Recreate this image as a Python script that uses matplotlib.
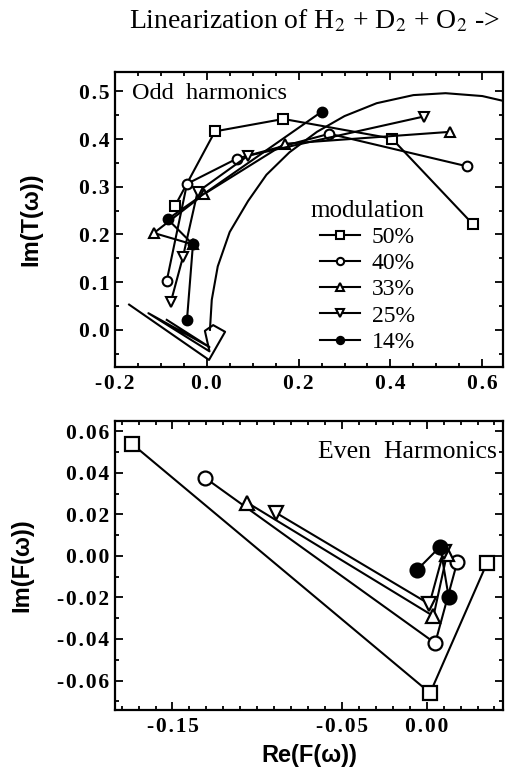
import matplotlib
matplotlib.use("Agg")
import matplotlib.pyplot as plt
from matplotlib.ticker import MultipleLocator

# odd harmonics, Im(T) vs Re(T), one list pair per modulation depth
odd_50_re = [0.579, 0.403, 0.167, 0.018, -0.069]
odd_50_im = [0.222, 0.401, 0.442, 0.416, 0.260]
odd_40_re = [0.566, 0.267, 0.066, -0.043, -0.087]
odd_40_im = [0.343, 0.411, 0.359, 0.306, 0.103]
odd_33_re = [0.530, 0.170, -0.005, -0.115, -0.030]
odd_33_im = [0.415, 0.390, 0.285, 0.203, 0.179]
odd_25_re = [0.472, 0.090, -0.020, -0.052, -0.078]
odd_25_im = [0.447, 0.365, 0.289, 0.152, 0.059]
odd_14_re = [0.250, -0.085, -0.030, -0.043]
odd_14_im = [0.457, 0.232, 0.179, 0.021]

# linear response curve
lin_re = [0.007, 0.011, 0.024, 0.050, 0.090, 0.130, 0.180, 0.240, 0.300,
          0.370, 0.450, 0.520, 0.600, 0.645]
lin_im = [0.000, 0.063, 0.133, 0.205, 0.270, 0.325, 0.372, 0.415, 0.448,
          0.475, 0.492, 0.496, 0.490, 0.480]
wedge_re = [-0.169, 0.005, 0.040, 0.014, -0.004, 0.006, -0.127, 0.006, -0.087]
wedge_im = [0.053, -0.063, -0.004, 0.010, -0.002, -0.045, 0.035, -0.036, 0.021]

# even harmonics, Im(F) vs Re(F)
even_50_re = [-0.174, 0.002, 0.0355]
even_50_im = [0.054, -0.066, -0.0036]
even_40_re = [-0.131, 0.005, 0.018]
even_40_im = [0.0377, -0.042, -0.003]
even_33_re = [-0.106, 0.004, 0.012]
even_33_im = [0.0257, -0.029, 0.001]
even_25_re = [-0.089, 0.0016, 0.010]
even_25_im = [0.0208, -0.0232, 0.002]
even_14_re = [-0.006, 0.008, 0.013]
even_14_im = [-0.007, 0.0045, -0.020]

labels = ["50%", "40%", "33%", "25%", "14%"]
markers = ["s", "o", "^", "v", "o"]
fills = ["white", "white", "white", "white", "black"]

SERIF = ["Liberation Serif", "DejaVu Serif"]
SANS = "Liberation Sans"
HAIR = "\u200a"


def spaced(fmt):
    # slightly letter-spaced tick labels
    def f(v, pos):
        s = fmt.format(v)
        if s.startswith("-") and float(s) == 0:
            s = s[1:]
        return HAIR.join(s)
    return f


fig = plt.figure(figsize=(5.06, 7.68), dpi=100)
ax1 = fig.add_axes([0.227, 0.522, 0.767, 0.384])
ax2 = fig.add_axes([0.227, 0.076, 0.767, 0.376])


def style_axes(ax):
    for s in ax.spines.values():
        s.set_linewidth(1.6)
    ax.tick_params(which="both", direction="in", top=True, right=True,
                   width=1.3, labelsize=15.5)
    ax.tick_params(which="major", length=6)
    ax.tick_params(which="minor", length=3)
    ax.tick_params(axis="x", pad=5)
    ax.tick_params(axis="y", pad=4)
    for lab in ax.get_xticklabels() + ax.get_yticklabels():
        lab.set_fontfamily(SERIF)
        lab.set_fontweight("bold")


odd = [(odd_50_re, odd_50_im), (odd_40_re, odd_40_im), (odd_33_re, odd_33_im),
       (odd_25_re, odd_25_im), (odd_14_re, odd_14_im)]
ax1.plot(lin_re, lin_im, color="black", lw=1.5)
ax1.plot(wedge_re, wedge_im, color="black", lw=1.5)
for (re, im), lab, m, fc in zip(odd, labels, markers, fills):
    ax1.plot(re, im, color="black", lw=1.5, marker=m, ms=7, mfc=fc,
             mec="black", mew=1.5, label=lab)

ax1.set_xlim(-0.2, 0.645)
ax1.set_ylim(-0.078, 0.54)
ax1.xaxis.set_major_locator(MultipleLocator(0.2))
ax1.xaxis.set_minor_locator(MultipleLocator(0.05))
ax1.yaxis.set_major_locator(MultipleLocator(0.1))
ax1.yaxis.set_minor_locator(MultipleLocator(0.05))
ax1.xaxis.set_major_formatter(spaced("{:.1f}"))
ax1.yaxis.set_major_formatter(spaced("{:.1f}"))
style_axes(ax1)
ax1.set_ylabel("Im(T(\u03c9))", fontfamily=SANS, fontweight="bold",
               fontsize=17)
ax1.yaxis.set_label_coords(-0.188, 0.5)
ax1.text(0.045, 0.965, "Odd  harmonics", transform=ax1.transAxes,
         fontfamily=SERIF, fontsize=17.5, va="top", ha="left")

leg = ax1.legend(loc="upper left", bbox_to_anchor=(0.48, 0.6), frameon=False,
                 title="modulation", handlelength=1.7, handletextpad=0.5,
                 labelspacing=0.2, borderaxespad=0.0, markerscale=0.75,
                 prop={"family": SERIF, "size": 17})
leg.get_title().set_fontfamily(SERIF)
leg.get_title().set_fontsize(18)

even = [(even_50_re, even_50_im), (even_40_re, even_40_im),
        (even_33_re, even_33_im), (even_25_re, even_25_im),
        (even_14_re, even_14_im)]
for (re, im), m, fc in zip(even, markers, fills):
    ax2.plot(re, im, color="black", lw=1.5, marker=m, ms=10, mfc=fc,
             mec="black", mew=1.6)

ax2.set_xlim(-0.184, 0.045)
ax2.set_ylim(-0.074, 0.065)
ax2.set_xticks([-0.15, -0.05, 0.0])
ax2.xaxis.set_minor_locator(MultipleLocator(0.01))
ax2.yaxis.set_major_locator(MultipleLocator(0.02))
ax2.yaxis.set_minor_locator(MultipleLocator(0.01))
ax2.xaxis.set_major_formatter(spaced("{:.2f}"))
ax2.yaxis.set_major_formatter(spaced("{:.2f}"))
style_axes(ax2)
ax2.set_ylabel("Im(F(\u03c9))", fontfamily=SANS, fontweight="bold",
               fontsize=17)
ax2.yaxis.set_label_coords(-0.211, 0.5)
ax2.set_xlabel("Re(F(\u03c9))", fontfamily=SANS, fontweight="bold",
               fontsize=17)
ax2.xaxis.set_label_coords(0.5, -0.118)
ax2.text(0.985, 0.93, "Even  Harmonics", transform=ax2.transAxes,
         fontfamily=SERIF, fontsize=18.5, va="top", ha="right")

fig.text(0.988, 1 - 28 / 768, "Linearization of H$_2$ + D$_2$ + O$_2$ ->",
         fontfamily=SERIF, fontsize=20, ha="right", va="baseline",
         math_fontfamily="stix")

fig.savefig("out.png", dpi=100)
